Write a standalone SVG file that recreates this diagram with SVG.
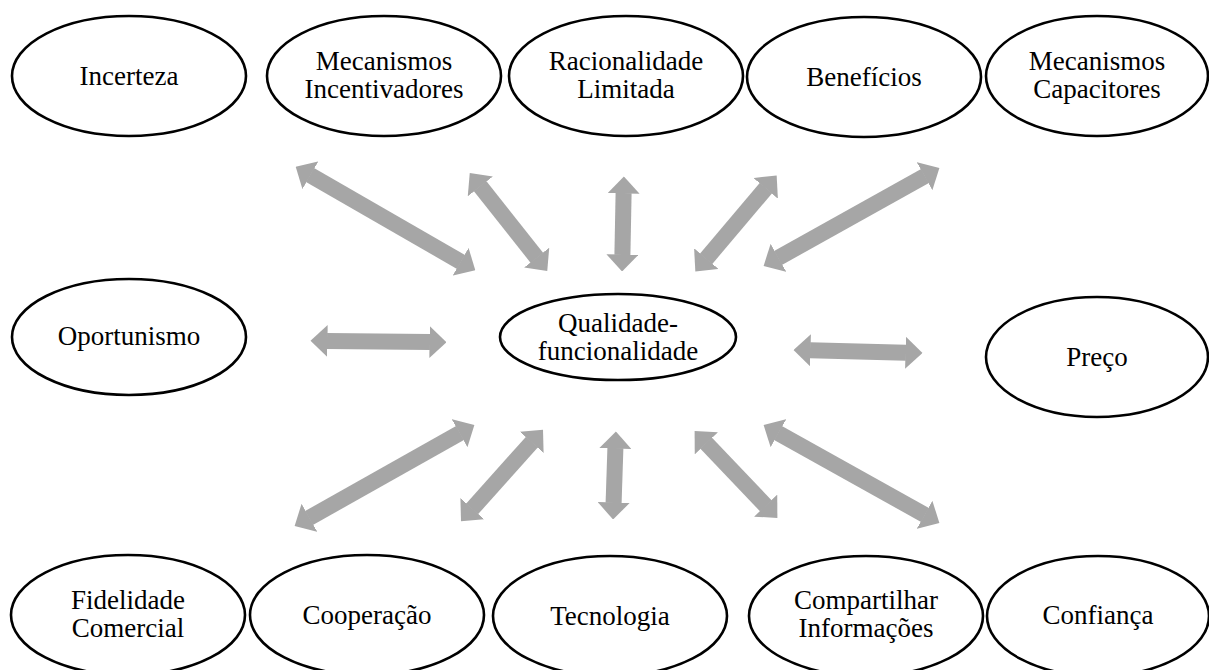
<svg xmlns="http://www.w3.org/2000/svg" width="1209" height="670" viewBox="0 0 1209 670">
  <style>
    .node ellipse { fill: #ffffff; stroke: #000000; stroke-width: 2.6; }
    .node text { font-family: "Liberation Serif", "Times New Roman", serif; font-size: 27px; fill: #000000; text-anchor: middle; }
    .link { stroke: #a6a6a6; stroke-width: 16; fill: none; marker-start: url(#head); marker-end: url(#head); }
  </style>
  <defs>
    <!-- block arrowhead; the line stops at the base of the head -->
    <marker id="head" viewBox="0 -16 17 32" refX="0.5" refY="0" markerWidth="17" markerHeight="32" markerUnits="userSpaceOnUse" orient="auto-start-reverse">
      <path d="M0,-16 L17,0 L0,16 Z" fill="#a6a6a6"/>
    </marker>
  </defs>
  <rect width="1209" height="670" fill="#ffffff"/>

  <!-- top row -->
  <g id="incerteza" class="node">
    <ellipse cx="129" cy="76" rx="117" ry="60"/>
    <text x="129" y="85">Incerteza</text>
  </g>
  <g id="mecanismos-incentivadores" class="node">
    <ellipse cx="384" cy="76" rx="117" ry="60"/>
    <text x="384" y="70">Mecanismos</text>
    <text x="384" y="98">Incentivadores</text>
  </g>
  <g id="racionalidade-limitada" class="node">
    <ellipse cx="626" cy="76" rx="117" ry="60"/>
    <text x="626" y="70">Racionalidade</text>
    <text x="626" y="98">Limitada</text>
  </g>
  <g id="beneficios" class="node">
    <ellipse cx="864" cy="77" rx="117" ry="60"/>
    <text x="864" y="86">Benefícios</text>
  </g>
  <g id="mecanismos-capacitores" class="node">
    <ellipse cx="1097" cy="76" rx="111" ry="60"/>
    <text x="1097" y="70">Mecanismos</text>
    <text x="1097" y="98">Capacitores</text>
  </g>

  <!-- middle row -->
  <g id="oportunismo" class="node">
    <ellipse cx="129" cy="337" rx="117" ry="58"/>
    <text x="129" y="345">Oportunismo</text>
  </g>
  <g id="qualidade-funcionalidade" class="node">
    <ellipse cx="618" cy="337" rx="118" ry="43"/>
    <text x="618" y="332">Qualidade-</text>
    <text x="618" y="360">funcionalidade</text>
  </g>
  <g id="preco" class="node">
    <ellipse cx="1097" cy="357" rx="111" ry="60"/>
    <text x="1097" y="366">Preço</text>
  </g>

  <!-- bottom row -->
  <g id="fidelidade-comercial" class="node">
    <ellipse cx="128" cy="615" rx="117" ry="60"/>
    <text x="128" y="609">Fidelidade</text>
    <text x="128" y="637">Comercial</text>
  </g>
  <g id="cooperacao" class="node">
    <ellipse cx="367" cy="615" rx="117" ry="60"/>
    <text x="367" y="624">Cooperação</text>
  </g>
  <g id="tecnologia" class="node">
    <ellipse cx="610" cy="616" rx="117" ry="60"/>
    <text x="610" y="625">Tecnologia</text>
  </g>
  <g id="compartilhar-informacoes" class="node">
    <ellipse cx="866" cy="616" rx="117" ry="60"/>
    <text x="866" y="609">Compartilhar</text>
    <text x="866" y="637">Informações</text>
  </g>
  <g id="confianca" class="node">
    <ellipse cx="1098" cy="616" rx="111" ry="60"/>
    <text x="1098" y="624">Confiança</text>
  </g>

  <!-- double-headed connectors around the centre node -->
  <g id="connectors">
    <line class="link" x1="310" y1="175" x2="461" y2="262"/>
    <line class="link" x1="480" y1="186" x2="537" y2="258"/>
    <line class="link" x1="623.6" y1="193" x2="622.4" y2="255"/>
    <line class="link" x1="766" y1="188" x2="706" y2="259"/>
    <line class="link" x1="925" y1="176" x2="778" y2="258"/>
    <line class="link" x1="327" y1="341" x2="430" y2="342"/>
    <line class="link" x1="810" y1="350.3" x2="906" y2="352.7"/>
    <line class="link" x1="460" y1="433" x2="309" y2="518"/>
    <line class="link" x1="532" y1="442" x2="472" y2="509"/>
    <line class="link" x1="615.4" y1="448" x2="613.6" y2="503"/>
    <line class="link" x1="706" y1="443" x2="766" y2="506"/>
    <line class="link" x1="778" y1="433" x2="925" y2="515"/>
  </g>
</svg>
